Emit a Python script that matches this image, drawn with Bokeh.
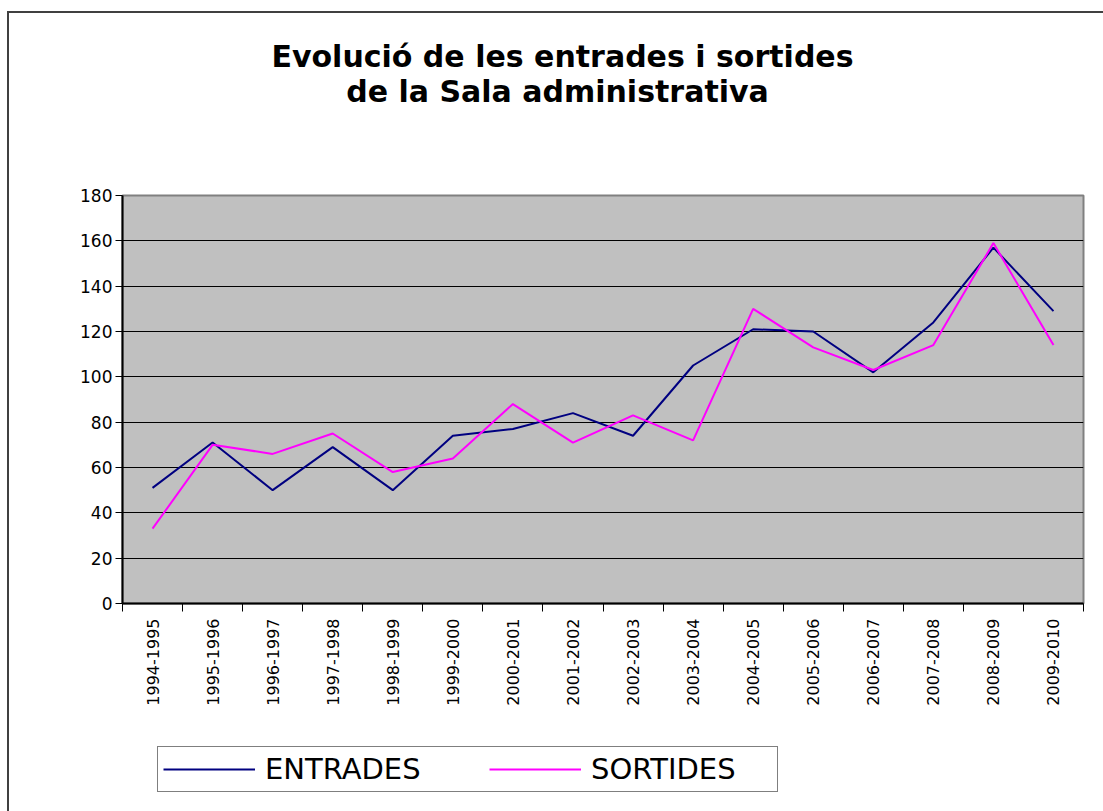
import math
from bokeh.plotting import figure
from bokeh.layouts import column
from bokeh.models import Legend, LegendItem, FixedTicker, Label
from bokeh.embed import file_html
from bokeh.resources import INLINE

# ---- data ----
categories = ["1994-1995", "1995-1996", "1996-1997", "1997-1998", "1998-1999",
              "1999-2000", "2000-2001", "2001-2002", "2002-2003", "2003-2004",
              "2004-2005", "2005-2006", "2006-2007", "2007-2008", "2008-2009",
              "2009-2010"]
entrades = [51, 71, 50, 69, 50, 74, 77, 84, 74, 105, 121, 120, 102, 124, 157, 129]
sortides = [33, 70, 66, 75, 58, 64, 88, 71, 83, 72, 130, 113, 103, 114, 159, 114]
y_ticks = [0, 20, 40, 60, 80, 100, 120, 140, 160, 180]
title_lines = ["Evolució de les entrades i sortides", "de la Sala administrativa"]
series_names = ["ENTRADES", "SORTIDES"]
colors = ["#000080", "#FF00FF"]

n = len(categories)
xs = [i + 0.5 for i in range(n)]

FONT = "DejaVu Sans"
W = 1094


def blank_fig(h):
    f = figure(width=W, height=h, x_range=(0, n), y_range=(0, 1),
               x_axis_type=None, y_axis_type=None,
               output_backend="svg", toolbar_location=None,
               min_border=0, min_border_left=0, min_border_right=0,
               min_border_top=0, min_border_bottom=0,
               background_fill_color="white", border_fill_color="white")
    f.outline_line_color = None
    f.title.text = ""
    return f


# ---- title block (frames are aligned with the chart frame, left edge at x=122) ----
tf = blank_fig(174)
for txt, xx, yy in zip(title_lines, [440, 435], [131, 96]):
    tf.add_layout(Label(x=xx, y=yy, x_units="screen", y_units="screen",
                        text=txt, text_align="center", text_baseline="middle",
                        text_font=FONT, text_font_size="30px",
                        text_font_style="bold", text_color="black"))

# ---- main chart ----
p = figure(width=W, height=558, x_range=(0, n), y_range=(0, 180),
           output_backend="svg", toolbar_location=None,
           min_border_left=113, min_border_right=20,
           min_border_top=8, min_border_bottom=142,
           background_fill_color="#C0C0C0", border_fill_color="white")
p.title.text = ""
p.outline_line_color = "#808080"
p.outline_line_width = 2

xa = p.xaxis[0]
xa.ticker = FixedTicker(ticks=xs, minor_ticks=list(range(n + 1)))
xa.major_label_overrides = {x: c for x, c in zip(xs, categories)}
xa.major_label_orientation = math.pi / 2
xa.major_tick_out = 0
xa.major_tick_in = 0
xa.minor_tick_out = 8
xa.minor_tick_in = 0
xa.minor_tick_line_color = "black"
xa.minor_tick_line_width = 1
xa.axis_line_color = "black"
xa.axis_line_width = 2
xa.major_label_standoff = 7
xa.major_label_text_font = FONT
xa.major_label_text_font_size = "16px"
xa.major_label_text_color = "black"

ya = p.yaxis[0]
ya.ticker = FixedTicker(ticks=y_ticks, minor_ticks=[])
ya.major_tick_out = 7
ya.major_tick_in = 0
ya.major_tick_line_color = "black"
ya.axis_line_color = "black"
ya.axis_line_width = 2
ya.major_label_standoff = 3
ya.major_label_text_font = FONT
ya.major_label_text_font_size = "17px"
ya.major_label_text_color = "black"

p.xgrid.visible = False
p.ygrid.ticker = FixedTicker(ticks=y_ticks, minor_ticks=[])
p.ygrid.grid_line_color = "black"
p.ygrid.grid_line_width = 1

p.line(xs, entrades, line_color=colors[0], line_width=2)
p.line(xs, sortides, line_color=colors[1], line_width=2)

# ---- legend block: same series, drawn outside this strip's visible range,
# only so that the legend has styled renderers to sample ----
lf = blank_fig(66)
lr1 = lf.line(xs, entrades, line_color=colors[0], line_width=2)
lr2 = lf.line(xs, sortides, line_color=colors[1], line_width=2)
legend = Legend(items=[LegendItem(label=series_names[0], renderers=[lr1]),
                       LegendItem(label=series_names[1], renderers=[lr2])],
                orientation="horizontal", location=(35, 19),
                glyph_width=92, glyph_height=30, label_standoff=10,
                label_width=181, spacing=43, padding=5, margin=0,
                label_text_font=FONT, label_text_font_size="29px",
                label_text_color="black",
                border_line_color="black", border_line_width=1,
                background_fill_color="white", background_fill_alpha=1)
lf.add_layout(legend, "center")

layout = column(tf, p, lf, spacing=0,
                styles={"margin-left": "7px", "margin-top": "11px",
                        "border-left": "2px solid #404040",
                        "border-top": "2px solid #404040"})

open("out.html", "w").write(file_html(layout, INLINE))
